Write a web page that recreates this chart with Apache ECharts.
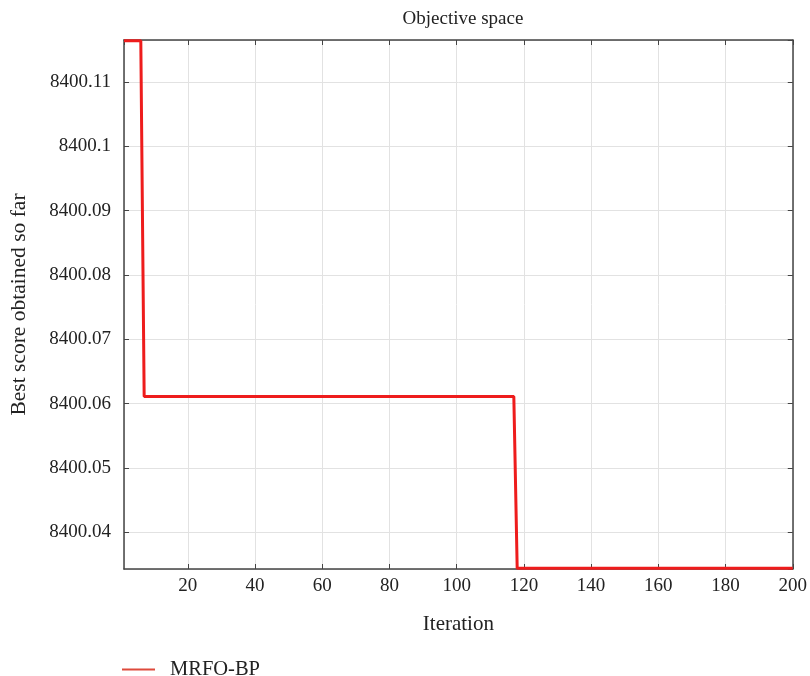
<!DOCTYPE html>
<html>
<head>
<meta charset="utf-8">
<script src="https://cdn.jsdelivr.net/npm/echarts@6/dist/echarts.min.js"></script>
<style>
  html, body { margin: 0; padding: 0; background: #fff; }
  #chart { width: 810px; height: 676px; }
</style>
</head>
<body>
<div id="chart"></div>
<script>
// Convergence curve: iterations where the best score changes, and the score held there
const iterations = [1, 6, 7, 117, 118, 200];
const bestScores = [8400.1164, 8400.1164, 8400.0611, 8400.0611, 8400.0344, 8400.0344];
const seriesName = 'MRFO-BP';
const yRange = [8400.0343, 8400.1165];
const xRange = [1, 200];

const FONT = '"Liberation Serif", "DejaVu Serif", serif';
const AXIS_COLOR = '#444';
const TEXT_COLOR = '#222';

const points = iterations.map((it, i) => [it, bestScores[i]]);

function fmtY(v) {
  return String(+v.toFixed(2));
}

const chart = echarts.init(document.getElementById('chart'));
chart.setOption({
  animation: false,
  backgroundColor: '#fff',
  textStyle: { fontFamily: FONT },
  title: {
    text: 'Objective space',
    left: 458, top: 5, textAlign: 'center',
    textStyle: { fontFamily: FONT, fontSize: 19, fontWeight: 'normal', color: TEXT_COLOR }
  },
  grid: { left: 122, right: 15, top: 40, bottom: 107, containLabel: false },
  legend: {
    data: [seriesName],
    left: 122, top: 659, padding: 0,
    icon: 'rect', itemWidth: 33, itemHeight: 2,
    itemGap: 10,
    textStyle: { fontFamily: FONT, fontSize: 20.5, color: TEXT_COLOR, padding: [0, 0, 0, 10] },
    itemStyle: { color: '#de4a3c' }
  },
  xAxis: [{
    type: 'value', min: xRange[0], max: xRange[1], splitNumber: 10,
    name: 'Iteration', nameLocation: 'middle', nameGap: 45,
    nameTextStyle: { fontFamily: FONT, fontSize: 21, color: TEXT_COLOR },
    axisLine: { show: true, onZero: false, lineStyle: { color: AXIS_COLOR, width: 1.5 } },
    axisTick: { show: true, inside: true, length: 5, lineStyle: { color: AXIS_COLOR } },
    axisLabel: { showMinLabel: false, fontFamily: FONT, fontSize: 19, color: TEXT_COLOR, margin: 8 },
    splitLine: { show: true, lineStyle: { color: '#e2e2e2', width: 1 } }
  }, {
    type: 'value', min: xRange[0], max: xRange[1], splitNumber: 10, position: 'top',
    axisLine: { show: true, onZero: false, lineStyle: { color: AXIS_COLOR, width: 1.5 } },
    axisTick: { show: true, inside: true, length: 5, lineStyle: { color: AXIS_COLOR } },
    axisLabel: { show: false },
    splitLine: { show: false }
  }],
  yAxis: [{
    type: 'value', min: yRange[0], max: yRange[1], splitNumber: 8,
    name: 'Best score obtained so far', nameLocation: 'middle', nameGap: 94,
    nameTextStyle: { fontFamily: FONT, fontSize: 21.5, color: TEXT_COLOR },
    axisLine: { show: true, onZero: false, lineStyle: { color: AXIS_COLOR, width: 1.5 } },
    axisTick: { show: true, inside: true, length: 5, lineStyle: { color: AXIS_COLOR } },
    axisLabel: {
      showMinLabel: false, showMaxLabel: false,
      fontFamily: FONT, fontSize: 19, color: TEXT_COLOR, margin: 13,
      formatter: fmtY
    },
    splitLine: { show: true, lineStyle: { color: '#e2e2e2', width: 1 } }
  }, {
    type: 'value', min: yRange[0], max: yRange[1], splitNumber: 8, position: 'right',
    axisLine: { show: true, onZero: false, lineStyle: { color: AXIS_COLOR, width: 1.5 } },
    axisTick: { show: true, inside: true, length: 5, lineStyle: { color: AXIS_COLOR } },
    axisLabel: { show: false },
    splitLine: { show: false }
  }],
  series: [{
    name: seriesName,
    type: 'line',
    xAxisIndex: 0, yAxisIndex: 0,
    data: points,
    showSymbol: false,
    symbol: 'none',
    clip: false,
    lineStyle: { color: '#ee1c1c', width: 3 },
    itemStyle: { color: '#ee1c1c' },
    z: 5
  }]
});
</script>
</body>
</html>
